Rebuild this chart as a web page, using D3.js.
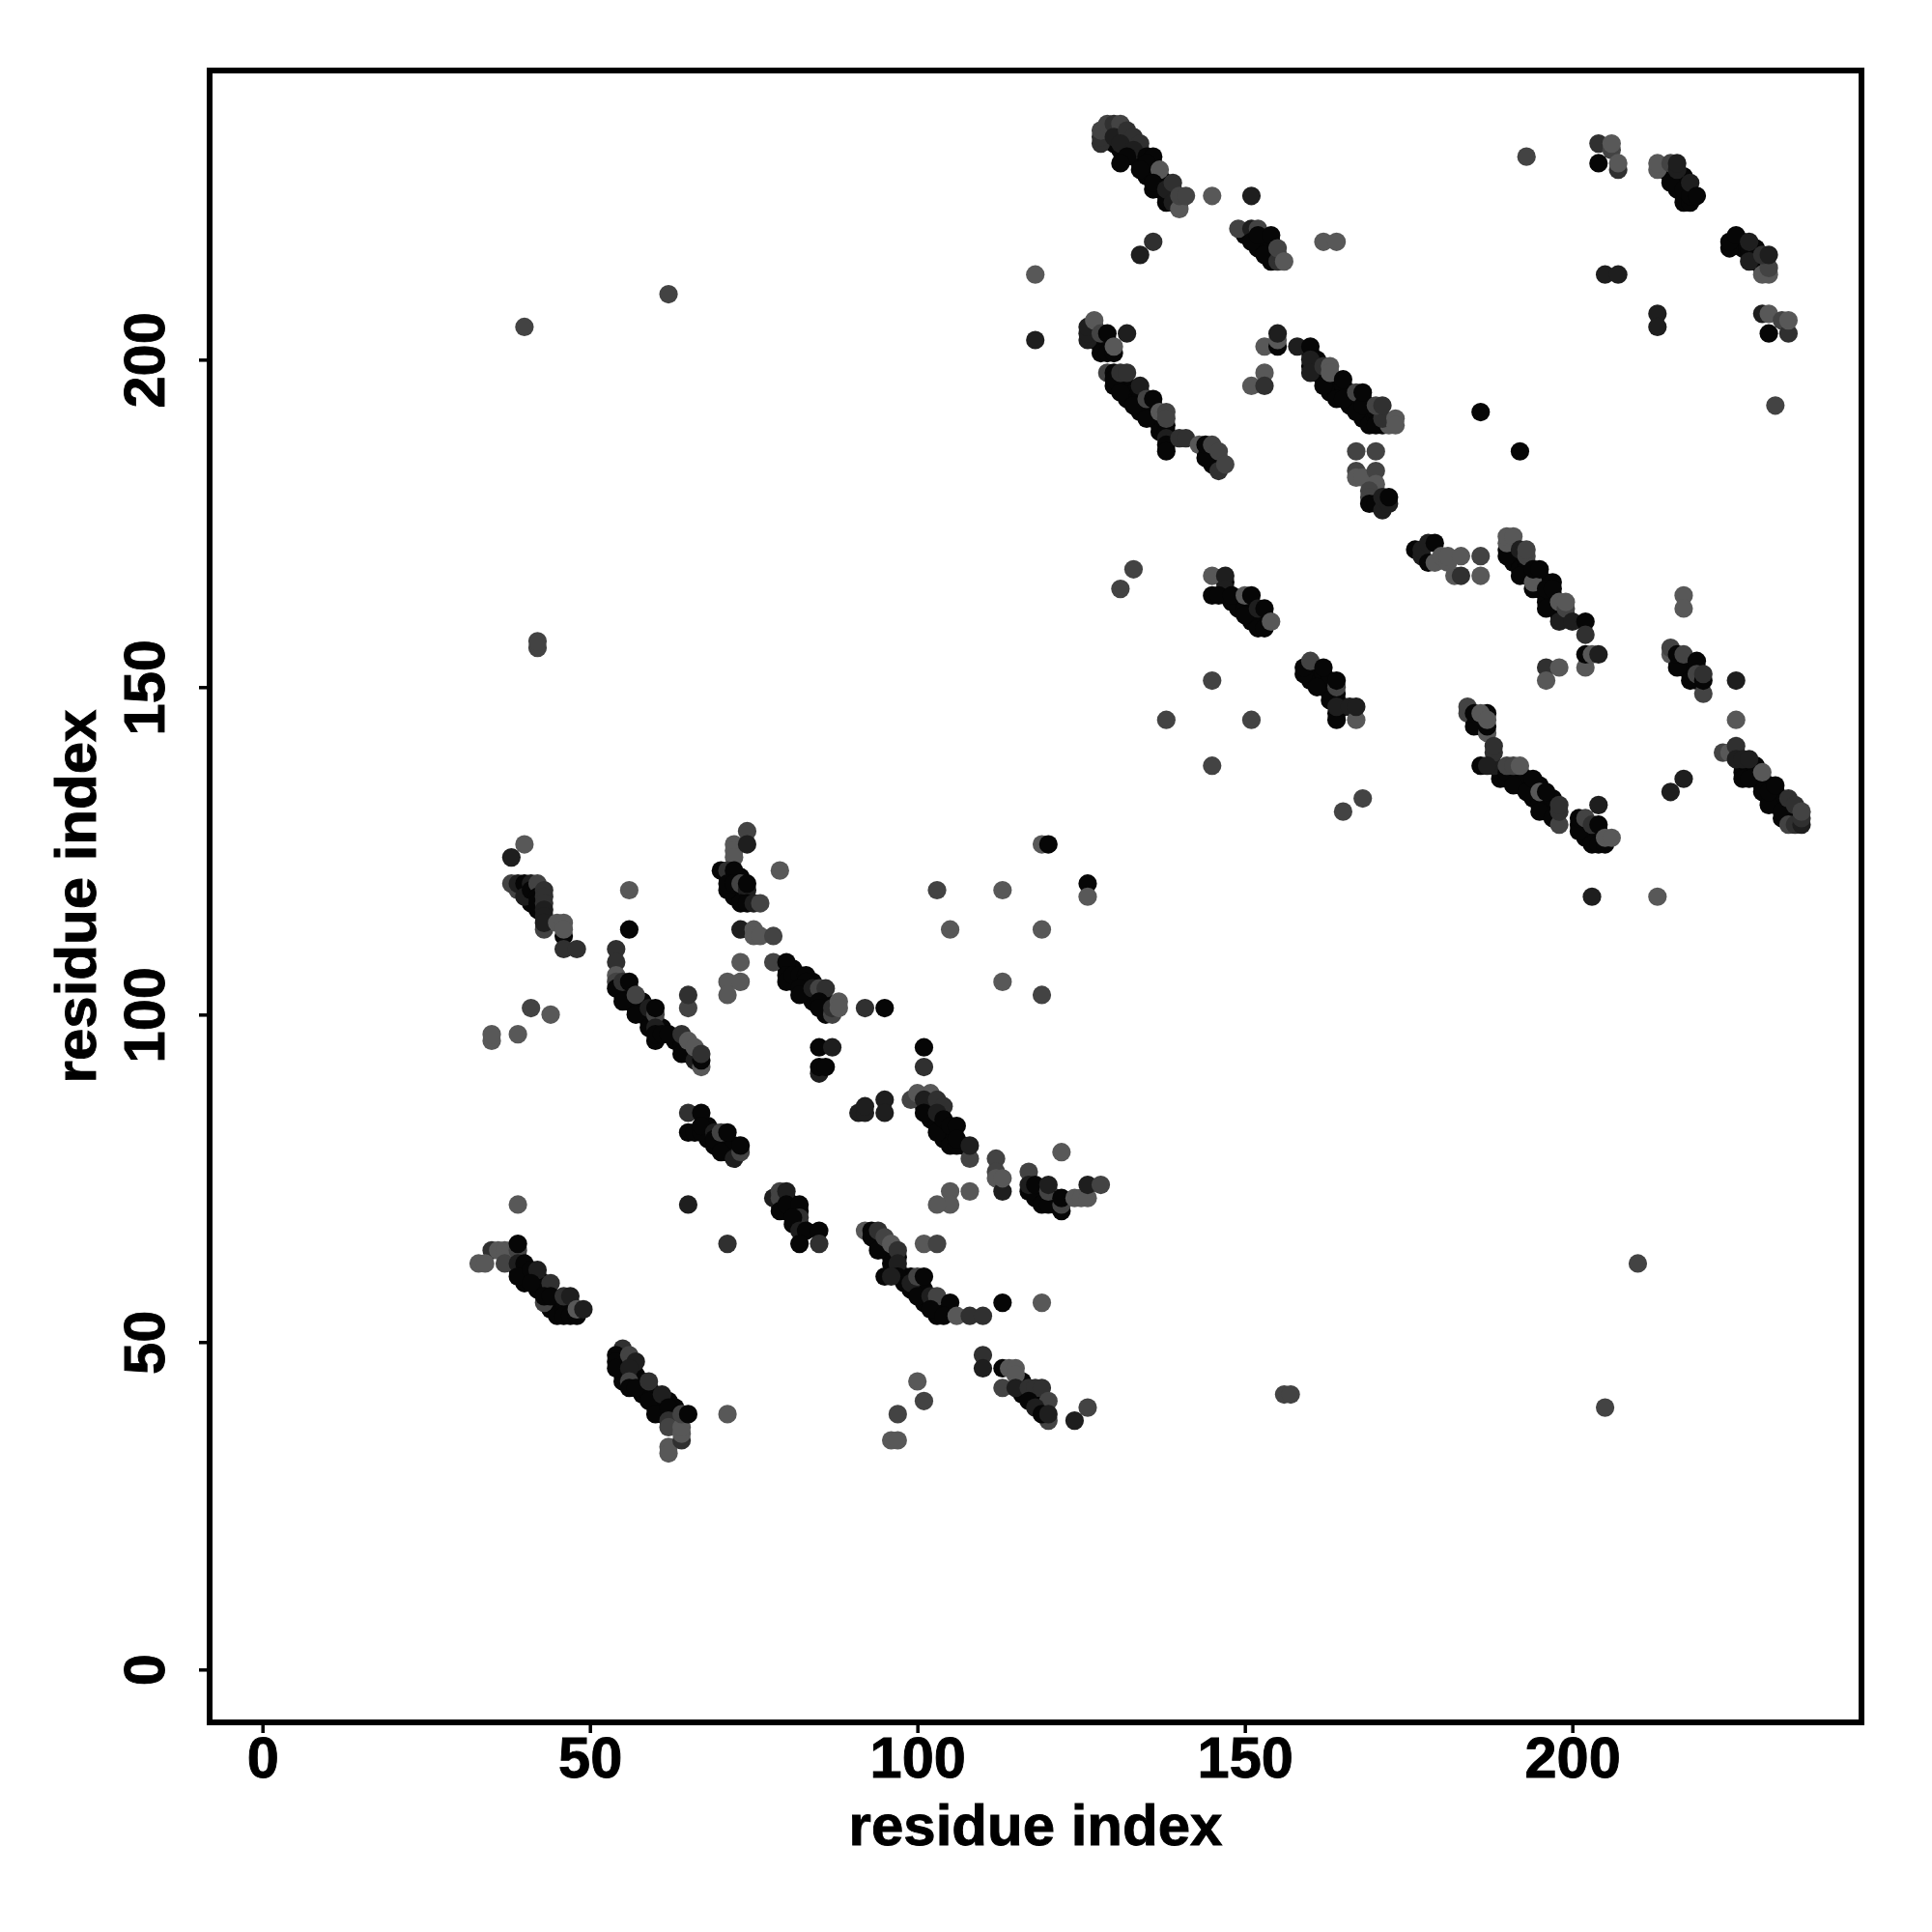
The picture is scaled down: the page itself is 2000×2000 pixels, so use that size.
<!DOCTYPE html>
<html><head><meta charset="utf-8">
<script src="https://cdn.jsdelivr.net/npm/d3@7"></script>
<style>html,body{margin:0;padding:0;background:#fff}svg{display:block}text{font-family:"Liberation Sans",Arial,sans-serif;font-weight:700;fill:#000;stroke:#000;stroke-width:0.9px}</style>
</head><body><div id="chart"></div>
<script>
// dense core of each strip: [residue i, residue j]; all darkest level, drawn first
const coreNear=[[129,234],[129,235],[130,235],[131,234],[131,235],[132,232],[132,233],[133,233],[133,231],[134,230],[134,231],[134,232],[135,229],[135,228],[136,228],[136,229],[136,230],[137,228],[137,227],[137,226],[138,227],[138,225],[138,224],[139,225],[139,226],[140,224],[130,233],[131,232],[150,219],[151,219],[152,218],[152,217],[153,218],[153,217],[154,216],[154,215],[154,218],[155,216],[127,203],[127,204],[127,205],[128,202],[128,203],[129,202],[129,203],[130,196],[131,196],[131,197],[132,196],[132,195],[132,194],[133,195],[133,194],[134,195],[134,194],[134,193],[134,192],[135,193],[135,192],[136,193],[136,192],[136,191],[137,191],[137,190],[137,189],[138,190],[138,189],[144,186],[145,185],[145,186],[146,184],[146,185],[145,184]];
const coreMid=[[160,201],[160,199],[161,199],[161,198],[161,200],[162,198],[162,197],[163,197],[163,196],[163,195],[164,196],[164,195],[165,195],[165,196],[166,194],[166,195],[166,193],[167,193],[167,194],[168,192],[168,191],[168,194],[169,192],[169,191],[169,190],[170,191],[170,192],[171,190],[170,179],[170,180],[171,178],[147,166],[147,164],[148,163],[149,163],[149,162],[150,163],[150,162],[151,162],[151,160],[151,161],[152,160],[152,161],[153,160],[153,161],[160,152],[160,151],[161,151],[161,152],[162,150],[162,151],[162,152],[163,149],[163,150],[163,151],[164,149],[164,148],[164,146],[165,147]];
const coreFar=[[190,171],[191,171],[191,170],[191,169],[192,170],[192,169],[192,168],[193,169],[193,168],[193,167],[194,167],[195,167],[195,166],[195,165],[196,164],[196,163],[196,166],[197,164],[197,163],[197,166],[198,161],[198,162],[199,161],[216,154],[217,153],[217,154],[218,153],[218,152],[219,151],[219,153],[185,145],[186,145],[186,144],[187,146],[189,137],[189,136],[190,136],[191,136],[191,137],[192,135],[192,136],[192,137],[193,135],[193,136],[194,134],[194,135],[194,133],[195,133],[195,132],[195,135],[196,133],[196,132],[196,131],[197,131],[197,132],[197,133],[201,129],[202,127],[202,128],[202,129],[203,127],[203,128],[204,127],[204,128],[225,140],[226,137],[226,138],[227,137],[227,138],[228,136],[228,137],[228,138],[229,135],[229,136],[230,135],[230,133],[231,132],[231,133],[231,134],[232,130],[232,132],[232,133],[233,130],[233,131],[233,132],[234,130],[234,131],[214,229],[215,228],[215,229],[216,228],[216,227],[217,227],[217,225],[217,228],[216,226],[225,218],[226,218],[226,217],[227,216],[227,217],[228,215],[228,216],[228,217],[229,215],[229,214]];
const coreLow=[[40,119],[41,118],[42,119],[42,116],[41,117],[55,104],[55,103],[56,104],[56,103],[56,102],[57,102],[57,101],[58,101],[58,102],[58,100],[59,100],[59,99],[59,98],[60,99],[61,98],[63,96],[64,96],[64,95],[65,95],[65,94],[66,94],[71,121],[72,121],[72,119],[72,118],[73,118],[73,119],[73,121],[80,107],[81,105],[81,107],[82,105],[83,104],[84,103],[84,105],[84,102],[85,103],[86,101],[86,102],[86,100],[68,83],[68,82],[68,81],[69,80],[70,80],[70,81],[71,80],[71,79],[72,79],[72,80],[101,86],[102,86],[102,85],[102,84],[103,84],[103,83],[104,83],[104,82],[104,81],[105,82],[105,81],[107,80],[118,73],[118,72],[119,72],[119,73],[120,72],[121,72],[121,71],[94,66],[94,65],[95,65],[95,64],[96,63],[96,62],[96,64],[97,63],[97,61],[98,60],[98,59],[99,58],[99,60],[100,58],[100,59],[101,57],[101,56],[101,58],[102,56],[103,55],[103,54],[103,56],[104,55],[116,43],[116,42],[116,44],[117,42],[118,42],[118,41],[119,40],[119,41],[79,71],[80,70],[80,72],[81,70],[81,71],[81,68],[82,68],[82,70],[38,63],[39,63],[39,61],[40,61],[40,60],[40,59],[41,60],[42,59],[42,60],[42,58],[43,58],[43,59],[44,56],[44,55],[45,55],[45,56],[45,54],[46,55],[46,56],[47,55],[47,56],[55,47],[55,46],[55,45],[55,44],[56,45],[57,44],[57,45],[58,44],[58,42],[58,43],[59,42],[59,43],[60,41],[60,40],[60,42],[61,40],[61,41],[61,39],[62,39],[62,41],[63,39],[63,40]];

// each contact: [residue i, residue j, shade level 0 (darkest) .. 4 (lightest)]
const stripA=[[38,120,3],[39,119,3],[39,120,1],[40,120,0],[40,118,1],[41,120,1],[41,119,0],[42,120,3],[42,118,0],[42,117,0],[43,119,2],[43,118,2],[43,117,2],[43,116,1],[43,115,1],[43,113,3],[43,114,1],[45,114,4],[46,112,0],[46,114,4],[46,113,4],[46,110,2],[48,110,2],[40,126,4],[38,124,1],[56,119,4],[56,113,0]];
const stripB=[[54,110,2],[54,108,2],[54,106,4],[54,105,3],[54,104,0],[55,105,2],[56,105,0],[55,102,0],[57,103,3],[57,100,0],[59,101,1],[60,100,3],[60,101,0],[60,96,0],[60,98,1],[60,97,0],[61,97,0],[62,97,0],[64,97,2],[64,94,0],[65,96,4],[66,93,1],[66,95,4],[67,92,4],[67,93,0],[67,94,2],[65,101,3],[65,103,2],[41,101,3],[44,100,4],[39,97,4],[35,96,4],[35,97,4]];
const stripC=[[72,126,4],[72,125,4],[72,124,4],[74,128,3],[74,126,1],[70,122,0],[71,122,2],[72,122,0],[71,119,0],[71,120,0],[72,120,0],[73,120,3],[74,119,1],[74,120,0],[73,117,0],[74,117,0],[75,117,1],[76,117,3],[79,122,4],[73,113,1],[75,113,4],[75,112,4],[76,112,4],[78,112,3],[73,108,4],[71,105,4],[73,105,4],[71,103,4],[78,108,3],[80,108,0],[80,106,0],[80,105,0],[81,106,0],[82,106,0],[83,106,0],[83,105,0],[82,104,0],[82,103,0],[84,104,1],[85,104,3],[86,104,2],[85,102,0],[85,101,0],[87,100,3],[87,101,2],[88,102,4],[88,101,4],[92,101,2],[95,101,0],[85,95,0],[87,95,1],[85,91,1],[85,92,0],[86,92,0],[101,95,0],[101,92,2]];
const stripD=[[65,85,2],[67,85,0],[65,82,0],[66,82,0],[67,82,0],[67,83,0],[69,82,1],[69,81,0],[70,82,3],[71,82,0],[70,79,0],[72,78,1],[73,79,3],[73,80,0],[91,85,1],[92,85,1],[92,86,1],[95,87,1],[95,85,1]];
const stripE=[[99,87,3],[100,88,4],[102,88,4],[101,87,1],[101,85,0],[103,87,2],[104,86,2],[103,85,1],[103,82,0],[104,84,0],[105,83,0],[106,83,0],[105,80,0],[106,80,0],[106,81,0],[108,78,3],[108,80,1],[112,78,3],[112,76,3],[112,75,4],[113,73,1],[113,75,4],[105,73,4],[108,73,4],[105,71,4],[103,71,4],[122,79,4],[117,76,3],[117,73,0],[117,74,1],[118,74,0],[119,71,0],[120,71,0],[120,73,3],[120,74,1],[122,70,0],[122,71,3],[122,72,0],[124,72,4],[125,72,4],[126,72,4],[126,74,1],[128,74,3],[113,105,4],[119,103,3],[103,119,3],[105,113,4],[113,119,4],[119,113,4],[119,126,4],[120,126,0],[126,120,0],[126,118,4]];
const stripF=[[92,67,4],[93,67,0],[93,66,0],[94,67,2],[94,64,0],[95,66,3],[96,65,4],[97,64,2],[101,65,4],[103,65,3],[97,62,1],[97,60,0],[95,60,0],[96,60,1],[99,59,1],[100,60,3],[101,60,0],[100,57,0],[102,57,1],[103,57,3],[105,56,0],[102,55,0],[104,54,0],[106,54,4],[108,54,2],[110,54,2],[113,56,0],[119,56,4]];
const stripG=[[110,48,2],[110,46,1],[113,46,0],[114,46,4],[115,46,4],[115,45,4],[113,43,3],[115,43,1],[117,43,2],[118,43,2],[119,43,2],[117,41,0],[120,38,3],[120,41,3],[118,40,1],[119,39,0],[120,39,1],[126,40,3],[124,38,1],[100,44,4],[101,41,3],[97,39,3],[96,35,4],[97,35,4]];
const stripH=[[39,71,4],[65,71,1],[71,65,2],[78,72,1],[79,73,3],[79,72,3],[80,73,1],[79,70,0],[80,71,0],[82,71,0],[82,69,2],[81,69,0],[82,67,1],[83,67,0],[85,67,0],[82,65,0],[85,65,2]];
const stripI=[[35,64,2],[36,64,4],[37,64,4],[38,64,4],[37,62,3],[33,62,4],[34,62,4],[39,64,3],[39,65,0],[39,62,1],[40,62,0],[39,60,0],[41,61,0],[42,61,1],[41,59,0],[44,59,2],[43,56,3],[43,57,0],[44,57,0],[46,57,2],[47,57,1],[46,54,0],[47,54,0],[48,54,0],[48,55,4],[49,55,1]];
const stripJ=[[55,49,2],[54,48,0],[54,47,0],[54,46,0],[56,48,3],[57,47,1],[56,46,1],[56,44,3],[56,43,0],[57,43,0],[59,44,2],[59,41,0],[61,42,1],[60,39,0],[62,40,0],[62,38,2],[62,37,3],[62,34,4],[62,33,4],[64,35,2],[64,36,4],[64,37,4],[64,39,3],[65,39,0],[71,39,4]];
const stripK=[[128,233,2],[128,234,2],[128,235,3],[129,236,3],[130,236,2],[131,236,3],[130,234,1],[132,235,2],[133,234,2],[134,233,2],[131,233,1],[133,232,1],[132,231,0],[131,230,0],[135,231,0],[136,231,0],[135,230,0],[134,229,0],[137,229,4],[136,226,0],[136,227,0],[138,226,1],[139,227,2],[139,224,1],[140,223,4],[140,225,3],[141,225,3],[145,225,4],[151,225,1],[136,218,2],[134,216,1]];
const stripL=[[149,220,3],[151,220,1],[152,220,3],[151,218,0],[152,219,0],[154,219,0],[153,216,0],[155,215,2],[155,217,3],[156,215,4],[162,218,4],[164,218,4],[62,210,3],[40,205,3],[118,213,4],[118,203,1],[42,156,3],[42,157,3],[210,62,3],[156,42,3],[157,42,3],[205,40,3],[203,118,1],[213,118,4]];
const stripM=[[126,203,1],[126,204,1],[126,205,1],[127,206,4],[128,201,0],[128,204,3],[129,201,0],[130,201,0],[129,204,0],[130,202,4],[132,204,1]];
const stripN=[[129,198,3],[130,198,0],[130,197,0],[131,198,2],[132,198,2],[131,195,0],[133,193,0],[134,196,1],[135,191,0],[135,194,3],[136,194,0],[137,192,4],[138,192,3],[138,191,3],[138,188,1],[138,187,0],[138,186,0],[140,188,2],[141,188,2],[143,187,4],[144,185,0],[144,187,0],[145,187,3],[146,183,2],[146,186,3],[147,184,3]];
const stripO=[[153,202,4],[155,202,0],[155,203,4],[155,204,1],[153,198,4],[151,196,4],[153,196,2],[158,202,1],[160,202,0],[160,200,1],[160,198,1],[162,196,0],[162,199,2],[163,199,4],[163,198,4],[165,197,0],[164,194,0],[165,194,0],[167,192,0],[167,195,3],[168,193,0],[168,195,0],[170,190,0],[172,190,4],[171,191,2],[170,193,3],[171,193,2],[173,191,4],[173,190,4]];
const stripP=[[167,186,3],[170,186,3],[167,183,3],[167,182,4],[168,182,4],[170,183,3],[170,181,4],[169,180,3],[169,179,3],[169,178,0],[170,178,0],[171,177,1],[171,179,1],[172,178,1],[172,179,0],[186,192,0],[192,186,0]];
const stripQ=[[133,168,3],[131,165,3],[145,167,4],[147,167,1],[147,165,1],[145,164,0],[146,164,0],[148,164,0],[150,164,4],[151,164,0],[150,161,0],[152,159,0],[152,162,1],[153,159,0],[153,162,0],[154,160,4],[145,151,3],[138,145,3],[151,145,3],[145,138,3],[168,133,3],[165,131,3]];
const stripR=[[159,152,0],[159,153,0],[160,154,3],[161,150,0],[162,153,0],[163,148,0],[164,145,0],[164,150,3],[164,151,0],[164,147,1],[166,147,1],[167,145,4],[167,147,1]];
const stripS=[[176,171,0],[177,170,1],[177,171,1],[178,169,0],[178,172,1],[179,172,0],[179,169,4],[180,170,4],[181,169,4],[181,170,4],[183,170,4],[186,170,3],[182,167,4],[183,167,2],[186,167,4]];
const stripT=[[190,170,0],[190,172,4],[190,173,4],[191,173,4],[192,167,0],[192,171,1],[193,170,3],[193,171,3],[194,165,0],[194,166,4],[194,168,0],[195,168,0],[196,162,0],[196,165,0],[197,165,0],[198,160,1],[198,163,4],[199,162,3],[199,163,4],[200,160,1],[202,160,0],[202,158,2],[196,153,2],[198,153,4],[196,151,4],[202,153,4],[202,155,0],[203,155,4],[204,155,1]];
const stripU=[[217,164,4],[217,162,4],[215,155,4],[215,156,3],[216,153,0],[216,155,0],[217,155,3],[218,151,0],[219,154,0],[219,152,3],[220,149,3],[220,151,0],[220,152,2],[225,151,1],[225,145,4]];
const stripV=[[184,146,3],[184,147,3],[185,144,0],[185,146,0],[186,146,4],[187,143,4],[187,144,0],[187,145,4],[188,138,1],[188,140,2],[188,141,2],[186,138,0],[187,138,1],[190,137,0],[190,138,3],[191,135,0],[191,138,3],[192,138,4],[193,134,0],[194,136,0],[195,131,0],[195,134,4],[196,134,0],[197,130,0],[198,129,3],[198,131,2],[198,132,2]];
const stripW=[[204,132,1],[201,128,0],[201,130,0],[202,130,3],[203,126,0],[204,126,0],[205,126,0],[203,129,2],[204,129,0],[205,127,4],[206,127,4]];
const stripX=[[223,140,3],[224,140,4],[225,141,2],[225,139,1],[226,136,0],[227,136,0],[226,139,1],[227,139,1],[229,134,0],[229,137,4],[230,132,0],[230,134,0],[231,135,0],[232,131,0],[233,129,3],[234,129,2],[235,129,1],[235,130,2],[233,133,2],[234,132,2],[235,131,3],[217,136,1],[215,134,1]];
const stripY=[[193,231,3],[204,233,2],[206,232,3],[206,233,4],[204,230,0],[207,229,2],[207,230,4],[213,229,4],[213,230,4],[215,227,0],[215,230,3],[216,229,1],[216,230,1],[217,224,0],[217,226,0],[218,224,0],[218,225,0],[218,227,1],[219,225,0]];
const stripZ=[[224,217,0],[224,218,0],[225,219,0],[227,215,1],[227,218,1],[229,213,4],[230,213,4],[230,214,3],[229,216,2],[230,216,1],[205,213,1],[207,213,1],[213,207,1],[213,205,1],[229,207,1],[230,207,4],[232,206,3],[233,204,2],[233,206,4],[230,204,0],[231,193,3]];

const xTicks=[0,50,100,150,200];
const yTicks=[0,50,100,150,200];
const axisTitle="residue index";
const shadeRamp=["#060606","#1e1e1e","#303030","#434343","#585858"];

const core=[].concat(coreNear,coreMid,coreFar,coreLow).map(d=>[d[0],d[1],0]);
const contacts=[].concat(core,stripA,stripB,stripC,stripD,stripE,stripF,stripG,stripH,stripI,stripJ,stripK,stripL,stripM,stripN,stripO,stripP,stripQ,stripR,stripS,stripT,stripU,stripV,stripW,stripX,stripY,stripZ);

const W=2000,H=2000,frame={l:217,r:1927,t:73,b:1783};
const x=d3.scaleLinear().domain([-8.07,244.15]).range([frame.l,frame.r]);
const y=d3.scaleLinear().domain([-8.07,244.15]).range([frame.b,frame.t]);
const svg=d3.select("#chart").append("svg").attr("width",W).attr("height",H).attr("viewBox",[0,0,W,H]);
svg.append("rect").attr("width",W).attr("height",H).attr("fill","#fff");

svg.append("g").selectAll("circle").data(contacts).join("circle")
  .attr("cx",d=>x(d[0])).attr("cy",d=>y(d[1])).attr("r",9.6)
  .attr("fill",d=>shadeRamp[d[2]]);

const gx=svg.append("g").attr("transform",`translate(0,${frame.b})`)
  .call(d3.axisBottom(x).tickValues(xTicks).tickSize(11).tickPadding(8));
gx.select(".domain").remove();
gx.selectAll("line").attr("stroke","#000").attr("stroke-width",3.5);
gx.selectAll("text").attr("font-size",59.5).attr("dy",null).attr("y",57).attr("text-anchor","middle");

const gy=svg.append("g").attr("transform",`translate(${frame.l},0)`)
  .call(d3.axisLeft(y).tickValues(yTicks).tickSize(11).tickPadding(8));
gy.select(".domain").remove();
gy.selectAll("line").attr("stroke","#000").attr("stroke-width",3.5);
gy.selectAll("text").attr("font-size",59.5).attr("dy",null)
  .attr("text-anchor","middle").attr("transform","translate(-47,0) rotate(-90)").attr("x",0).attr("y",0);

svg.append("rect").attr("x",frame.l).attr("y",frame.t).attr("width",frame.r-frame.l).attr("height",frame.b-frame.t)
  .attr("fill","none").attr("stroke","#000").attr("stroke-width",6);

svg.append("text").attr("x",1072).attr("y",1910).attr("text-anchor","middle").attr("font-size",60).text(axisTitle);
svg.append("text").attr("transform","translate(99,928) rotate(-90)").attr("text-anchor","middle").attr("font-size",60).text(axisTitle);
</script></body></html>
